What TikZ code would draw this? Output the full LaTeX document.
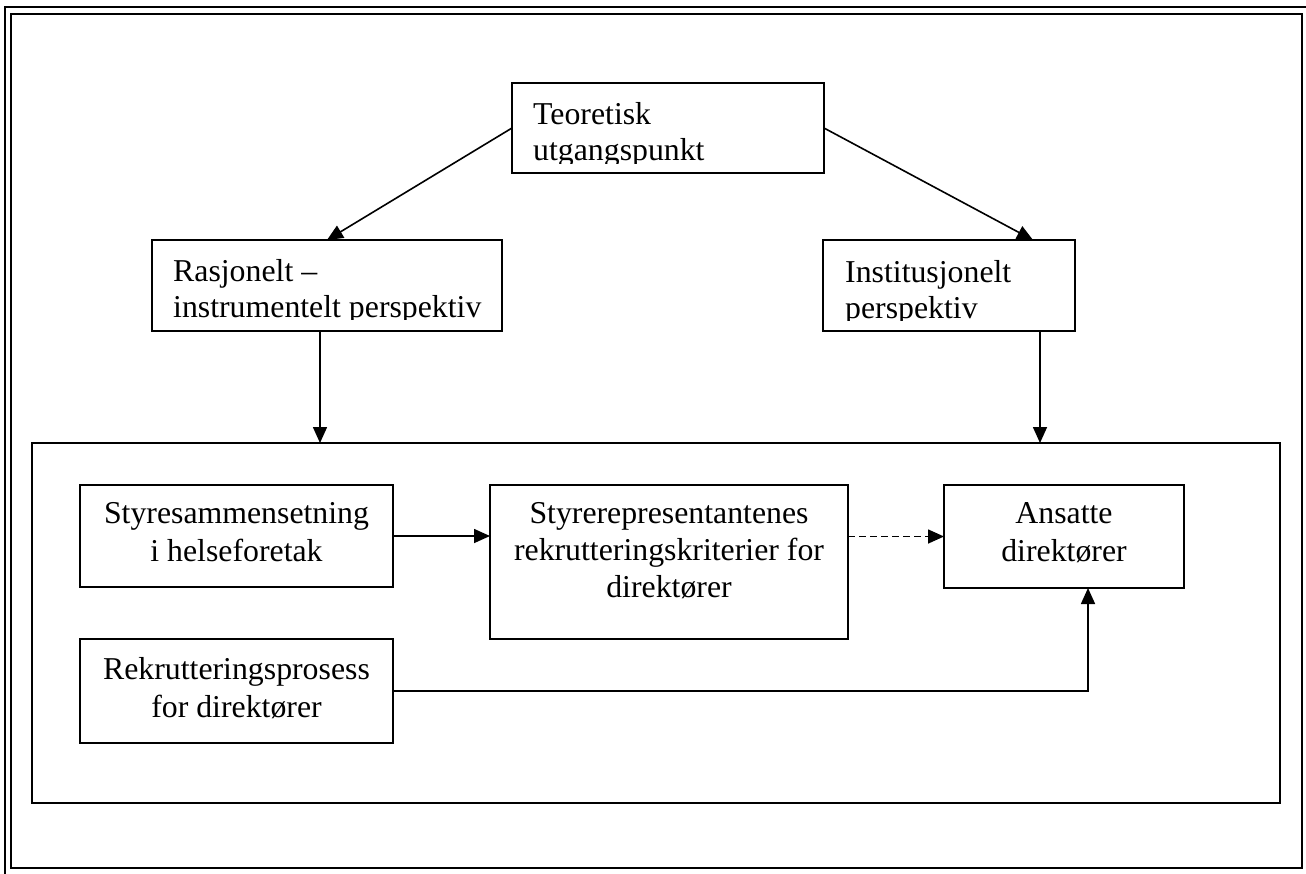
\documentclass[tikz,border=0pt]{standalone}
\usepackage{fontspec}
\setmainfont{Liberation Serif}
\usetikzlibrary{arrows.meta,calc}
\begin{document}
\begin{tikzpicture}[x=1pt,y=-1pt,
  box/.style 2 args={draw,line width=1.6pt,minimum width=#1,minimum height=#2,anchor=north west,inner sep=0pt,outer sep=0pt},
  txt/.style={font=\fontsize{31.8}{37}\selectfont,inner sep=0pt},
  arr/.style={line width=1.6pt,-{Triangle[length=16pt,width=14pt]}},
  dashline/.style={dash pattern=on 7pt off 4pt}]
\useasboundingbox (0,0) rectangle (1306,873);
% outer double frame
\draw[line width=1.6pt] (5,7) rectangle (1307,875);
\draw[line width=2.8pt] (11,14) rectangle (1302,868);
% boxes
\node[box={312}{90}] (teo) at (512,83) {};
\node[box={350}{91}] (ras) at (152,240) {};
\node[box={252}{91}] (ins) at (823,240) {};
\node[box={1248}{360}] (ramme) at (32,443) {};
\node[box={313}{102}] (sty) at (80,485) {};
\node[box={358}{154}] (kri) at (490,485) {};
\node[box={240}{103}] (ans) at (944,485) {};
\node[box={313}{104}] (rek) at (80,639) {};
% texts of the upper boxes (clipped like the original text boxes)
\begin{scope}
\clip (512,83) rectangle (824,163);
\node[txt,anchor=base west] (teo1) at (533,124) {Teoretisk};
\node[txt,anchor=base west] (teo2) at (533,160) {utgangspunkt};
\end{scope}
\begin{scope}
\clip (152,240) rectangle (502,319);
\node[txt,anchor=base west] (ras1) at (173,281) {Rasjonelt –};
\node[txt,anchor=base west] (ras2) at (173,317) {instrumentelt perspektiv};
\end{scope}
\begin{scope}
\clip (823,240) rectangle (1075,320);
\node[txt,anchor=base west] (ins1) at (845,282) {Institusjonelt};
\node[txt,anchor=base west] (ins2) at (845,318) {perspektiv};
\end{scope}
% inner texts
\node[txt,anchor=base] (sty1) at (236.5,523) {Styresammensetning};
\node[txt,anchor=base] (sty2) at (236.5,561) {i helseforetak};
\node[txt,anchor=base] (kri1) at (669,523) {Styrerepresentantenes};
\node[txt,anchor=base] (kri2) at (669,560) {rekrutteringskriterier for};
\node[txt,anchor=base] (kri3) at (669,597) {direktører};
\node[txt,anchor=base] (ans1) at (1064,523) {Ansatte};
\node[txt,anchor=base] (ans2) at (1064,561) {direktører};
\node[txt,anchor=base] (rek1) at (236.5,679) {Rekrutteringsprosess};
\node[txt,anchor=base] (rek2) at (236.5,717) {for direktører};
% connectors
\draw[arr] (teo.west) -- (ras.north);
\draw[arr] (teo.east) -- ([xshift=210pt]ins.north west);
\draw[arr] ([xshift=-7pt]ras.south) -- ([xshift=-7pt]ras.south |- ramme.north);
\draw[arr] ([xshift=217pt]ins.south west) -- ([xshift=217pt]ins.south west |- ramme.north);
\draw[arr] (sty.east) -- (sty.east -| kri.west);
\draw[arr,dashline] (kri.east |- ans.west) -- (ans.west);
\draw[arr] (rek.east) -| ([xshift=24pt]ans.south);
\end{tikzpicture}
\end{document}
